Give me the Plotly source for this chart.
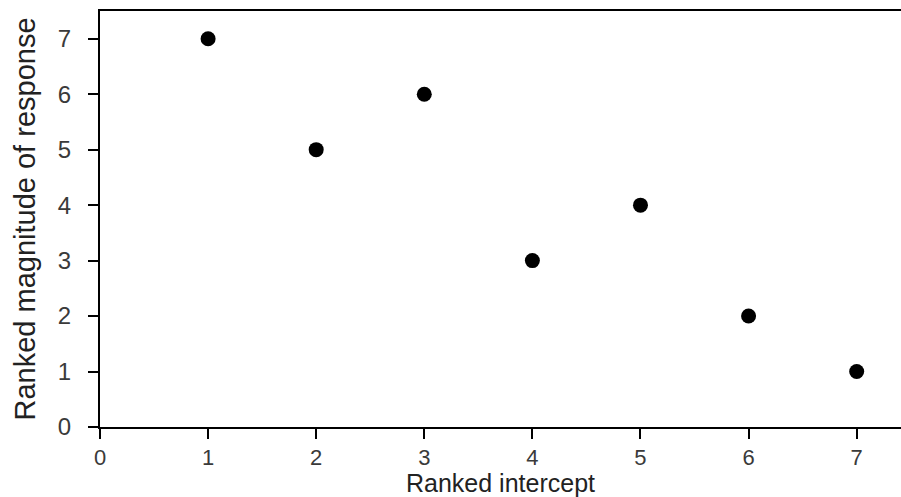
import plotly.graph_objects as go

ranked_intercept = [1, 2, 3, 4, 5, 6, 7]
ranked_magnitude = [7, 5, 6, 3, 4, 2, 1]
x_ticks = [0, 1, 2, 3, 4, 5, 6, 7]
y_ticks = [0, 1, 2, 3, 4, 5, 6, 7]

fig = go.Figure(go.Scatter(
    x=ranked_intercept, y=ranked_magnitude, mode="markers",
    marker=dict(color="black", size=15),
))

fig.update_layout(
    width=901, height=497,
    paper_bgcolor="white", plot_bgcolor="white",
    margin=dict(l=100, r=0, t=11, b=70),
    showlegend=False,
    font=dict(family="Liberation Sans, Arial, sans-serif", color="#333333"),
)
fig.update_xaxes(
    range=[0, 7.41], tickvals=x_ticks, ticktext=[str(v) for v in x_ticks],
    showgrid=False, zeroline=False, showline=True, linecolor="black", linewidth=2,
    mirror=True, ticks="outside", ticklen=10, tickwidth=2, tickcolor="black",
    tickfont=dict(size=22, color="#3a3a3a"),
    title=dict(text="Ranked intercept", font=dict(size=25, color="#222222"), standoff=5),
)
fig.update_yaxes(
    range=[0, 7.5], tickvals=y_ticks, ticktext=[str(v) for v in y_ticks],
    showgrid=False, zeroline=False, showline=True, linecolor="black", linewidth=2,
    ticks="outside", ticklen=10, tickwidth=2, tickcolor="black",
    tickfont=dict(size=24, color="#3a3a3a"), ticklabelstandoff=12,
    title=dict(text="Ranked magnitude of response", font=dict(size=29, color="#222222"), standoff=14),
)

fig.write_html("out.html", config={"displayModeBar": False},
               post_script="document.body.style.margin='0';")
